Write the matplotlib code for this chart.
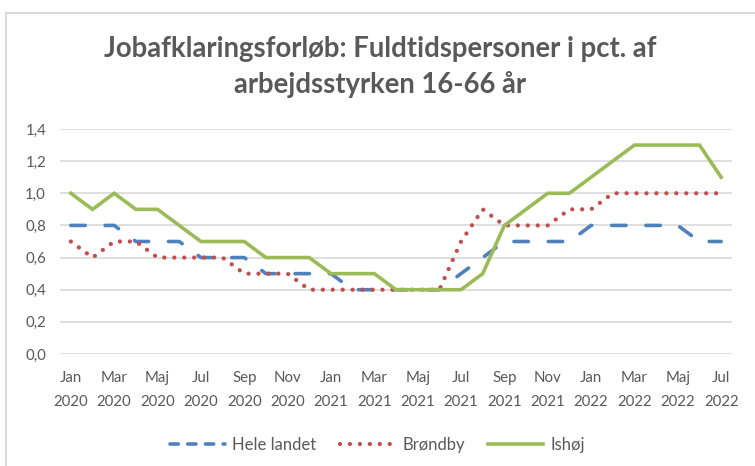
import matplotlib
matplotlib.use("Agg")
import matplotlib.pyplot as plt
from matplotlib.lines import Line2D

plt.rcParams["font.family"] = ["Lato", "DejaVu Sans"]

months = ["Jan", "Feb", "Mar", "Apr", "Maj", "Jun", "Jul", "Aug", "Sep", "Okt", "Nov", "Dec"]
years = ["2020", "2021", "2022"]
labels = [m + "\n" + y for y in years for m in months][:31]

hele_landet = [0.8, 0.8, 0.8, 0.7, 0.7, 0.7, 0.6, 0.6, 0.6, 0.5, 0.5, 0.5,
               0.5, 0.4, 0.4, 0.4, 0.4, 0.4, 0.5, 0.6, 0.7, 0.7, 0.7, 0.7,
               0.8, 0.8, 0.8, 0.8, 0.8, 0.7, 0.7]
broendby = [0.7, 0.6, 0.7, 0.7, 0.6, 0.6, 0.6, 0.6, 0.5, 0.5, 0.5, 0.4,
            0.4, 0.4, 0.4, 0.4, 0.4, 0.4, 0.7, 0.9, 0.8, 0.8, 0.8, 0.9,
            0.9, 1.0, 1.0, 1.0, 1.0, 1.0, 1.0]
ishoej = [1.0, 0.9, 1.0, 0.9, 0.9, 0.8, 0.7, 0.7, 0.7, 0.6, 0.6, 0.6,
          0.5, 0.5, 0.5, 0.4, 0.4, 0.4, 0.4, 0.5, 0.8, 0.9, 1.0, 1.0,
          1.1, 1.2, 1.3, 1.3, 1.3, 1.3, 1.1]

grey = "#595959"
blue = "#4F81BD"
red = "#C0504D"
green = "#9BBB59"

fig = plt.figure(figsize=(7.55, 4.66), dpi=100)
ax = fig.add_axes([60 / 755, 1 - 354 / 466, 672 / 755, 225 / 466])

x = list(range(len(labels)))
ax.plot(x, hele_landet, color=blue, lw=2.6, dashes=(4, 5.5),
        dash_capstyle="round", solid_joinstyle="round", label="Hele landet")
ax.plot(x, broendby, color=red, lw=3.1, dashes=(0.01, 2.3),
        dash_capstyle="round", label="Brøndby")
ax.plot(x, ishoej, color=green, lw=2.6, solid_joinstyle="miter",
        label="Ishøj")

ax.set_xlim(-0.5, len(labels) - 0.5)
ax.set_ylim(0, 1.4)
ax.set_yticks([0, 0.2, 0.4, 0.6, 0.8, 1.0, 1.2, 1.4])
ax.set_yticklabels(["0,0", "0,2", "0,4", "0,6", "0,8", "1,0", "1,2", "1,4"])
ax.set_xticks(x[::2])
ax.set_xticklabels(labels[::2], linespacing=1.95)
ax.tick_params(length=0, colors=grey, labelsize=10.8)
ax.tick_params(axis="y", pad=10)
ax.tick_params(axis="x", pad=12)
ax.grid(axis="y", color="#d9d9d9", lw=1.2)
ax.set_axisbelow(True)
for s in ax.spines.values():
    s.set_visible(False)

fig.text(0.503, 1 - 49 / 466, "Jobafklaringsforløb: Fuldtidspersoner i pct. af",
         ha="center", va="center", fontsize=19.8, fontweight="bold", color=grey)
fig.text(0.503, 1 - 85 / 466, "arbejdsstyrken 16-66 år",
         ha="center", va="center", fontsize=19.8, fontweight="bold", color=grey)

handles = [Line2D([], [], color=blue, lw=2.6, dashes=(2.3, 2.6), dash_capstyle="round"),
           Line2D([], [], color=red, lw=3.1, dashes=(0.01, 2.3), dash_capstyle="round"),
           Line2D([], [], color=green, lw=2.6)]
fig.legend(handles, ["Hele landet", "Brøndby", "Ishøj"], loc="center",
           bbox_to_anchor=(0.5, 1 - 445 / 466), ncol=3, frameon=False,
           fontsize=12, labelcolor=grey, handlelength=3.3,
           handletextpad=0.45, columnspacing=1.4)

# chart border (cut off on the right and bottom)
fig.add_artist(Line2D([6 / 755, 6 / 755, 1], [0, 1 - 13 / 466, 1 - 13 / 466],
                      transform=fig.transFigure, color="#d9d9d9", lw=1.5))

fig.savefig("out.png", dpi=100)
